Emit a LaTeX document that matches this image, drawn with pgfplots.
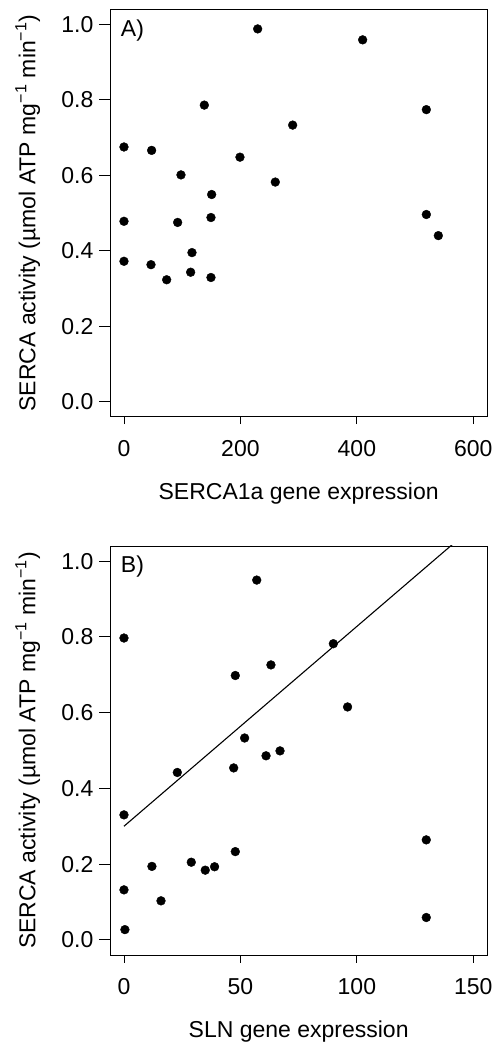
\documentclass[border=0pt]{standalone}
\usepackage{fontspec}
\setmainfont{Liberation Sans}
\usepackage{pgfplots}
\pgfplotsset{compat=1.18}

\pgfplotsset{rstyle/.style={
    scale only axis,
    width=377.3pt,
    axis line style={line width=0.9pt},
    tick align=outside,
    tick pos=left,
    tick style={black, line width=0.9pt},
    xtick style={/pgfplots/major tick length=7.5pt},
    ytick style={/pgfplots/major tick length=10.5pt},
    font=\fontsize{23}{27}\selectfont,
    /pgf/number format/assume math mode=true,
    ymin=-0.04, ymax=1.04,
    ytick={0,0.2,...,1.0},
    yticklabel style={anchor=east, inner sep=0pt, xshift=-12.2pt,
        /pgf/number format/.cd, fixed, fixed zerofill, precision=1},
    xticklabel style={anchor=north, inner sep=0pt, yshift=-19pt},
    every axis y label/.style={at={(axis description cs:-0.1975,0.5)}, rotate=90, anchor=base},
    every axis x label/.style={at={(axis description cs:0.5,-0.204)}, anchor=base},
    ylabel={SERCA activity (µmol ATP mg\textsuperscript{−1} min\textsuperscript{−1})},
}}

\begin{document}
\begin{tikzpicture}
\path[use as bounding box] (0,0) rectangle (493pt,1042pt);

% panel A
\begin{axis}[rstyle,
    at={(110pt,625.3pt)}, anchor=south west,
    height=407.4pt,
    xmin=-24, xmax=624,
    xtick={0,200,400,600},
    xlabel={SERCA1a gene expression},
]
\addplot[only marks, mark=*, mark size=4.4pt, black] coordinates {
    (0,0.675) (0,0.478) (0,0.372)
    (47.5,0.666) (46.4,0.363) (73.3,0.323)
    (97.9,0.601) (92.2,0.475) (116.8,0.395) (114.5,0.343)
    (138,0.786) (150.6,0.549) (149.4,0.488) (149.4,0.329)
    (199.2,0.648) (229.6,0.988) (259.9,0.582) (289.7,0.733)
    (409.9,0.959) (519.3,0.774) (519.3,0.496) (539.9,0.440)
};
\node[anchor=base west, inner sep=0pt] at (rel axis cs:0.0284,0.9327) {A)};
\end{axis}

% panel B
\begin{axis}[rstyle,
    at={(110pt,87pt)}, anchor=south west,
    height=409pt,
    xmin=-6, xmax=156,
    xtick={0,50,100,150},
    xlabel={SLN gene expression},
    every axis x label/.style={at={(axis description cs:0.5,-0.2005)}, anchor=base},
]
\addplot[only marks, mark=*, mark size=4.4pt, black] coordinates {
    (0,0.797) (0,0.330) (0,0.132) (0.4,0.027)
    (12.0,0.194) (15.9,0.103) (22.9,0.442) (28.9,0.205)
    (34.9,0.184) (38.9,0.193) (47.1,0.454) (47.8,0.698)
    (47.8,0.233) (51.8,0.533) (57.0,0.950) (61.0,0.486)
    (63.1,0.726) (67.0,0.499) (89.9,0.782) (96.0,0.615)
    (129.8,0.264) (129.8,0.059)
};
\addplot[black, line width=1.1pt] coordinates {(0,0.300) (150,1.0915)};
\node[anchor=base west, inner sep=0pt] at (rel axis cs:0.0284,0.9347) {B)};
\end{axis}
\end{tikzpicture}
\end{document}
